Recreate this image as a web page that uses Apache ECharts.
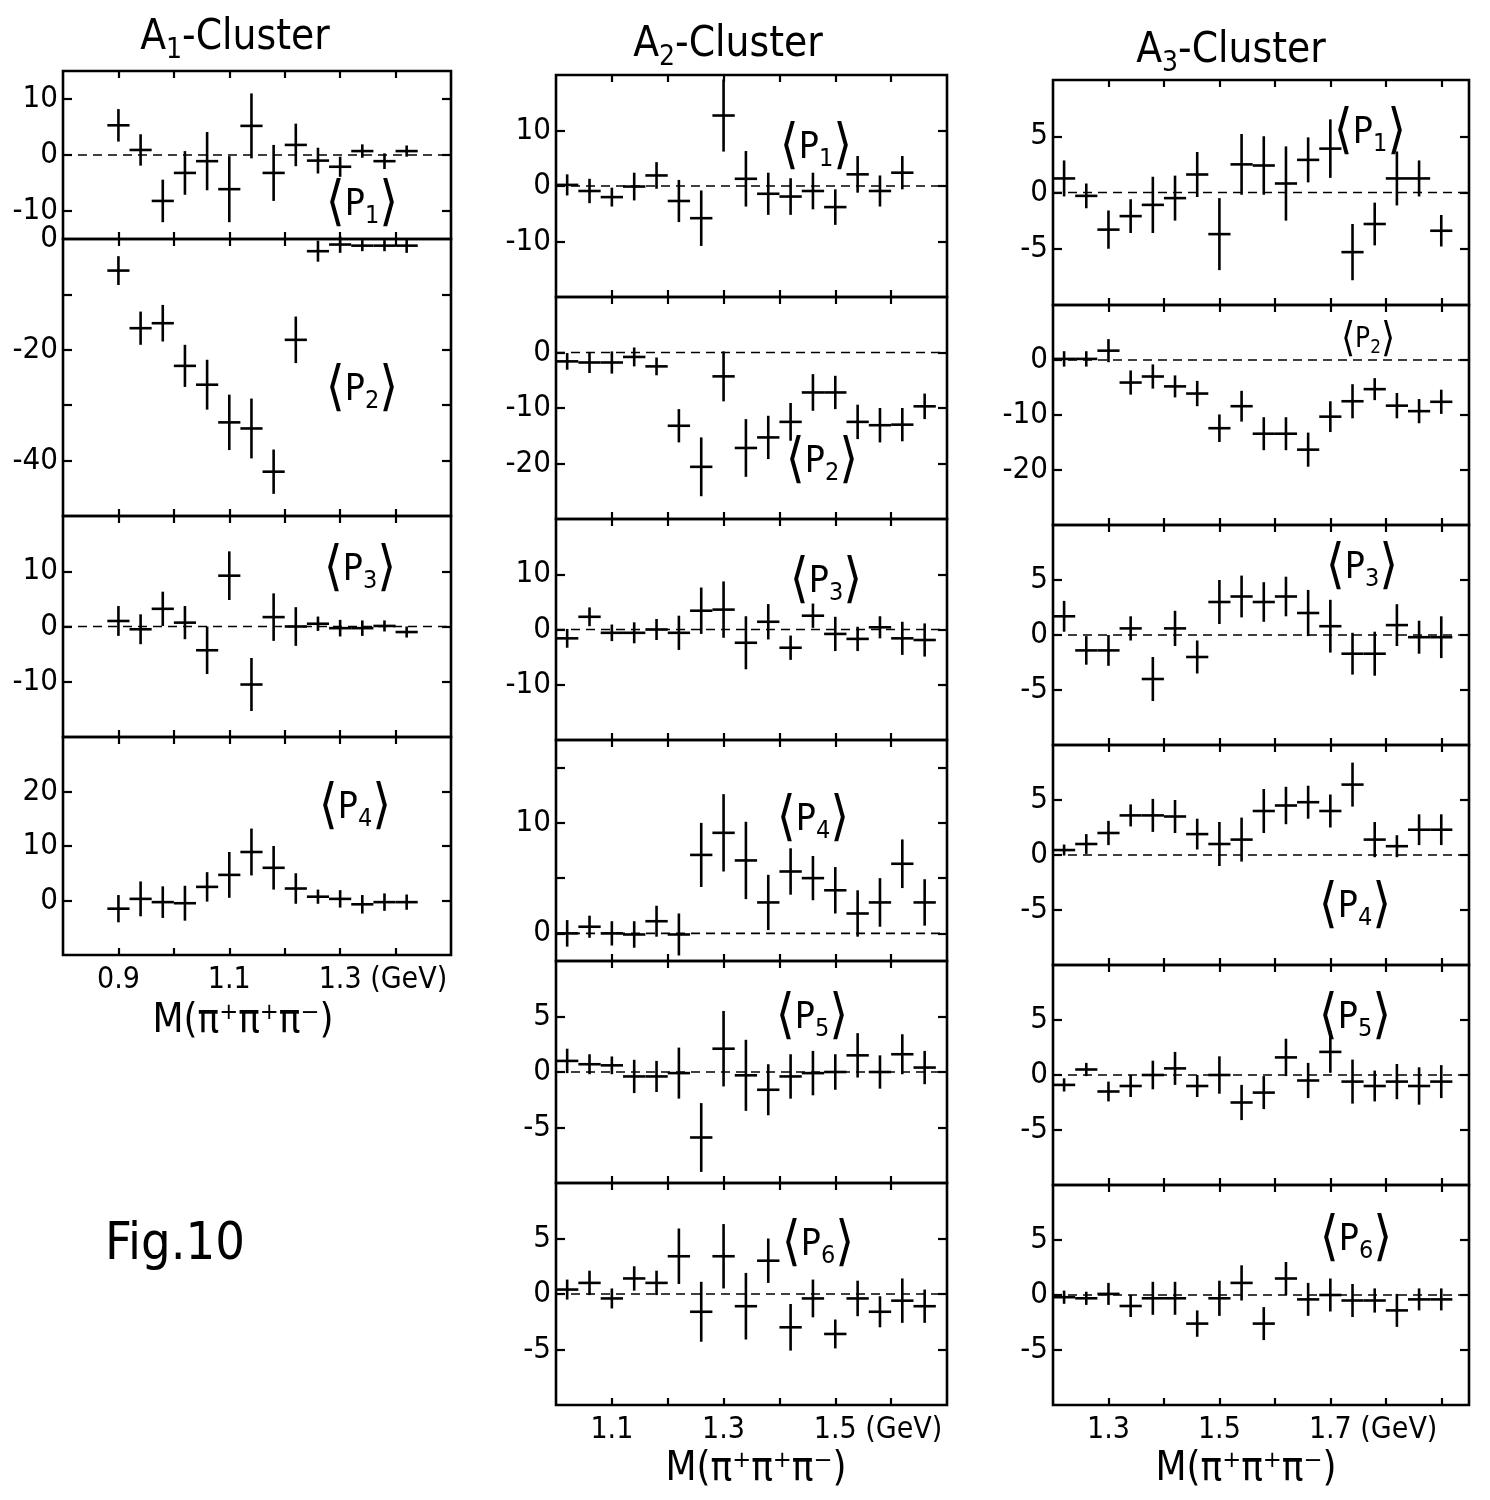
<!DOCTYPE html>
<html>
<head>
<meta charset="utf-8">
<title>Fig.10</title>
<script src="https://cdn.jsdelivr.net/npm/echarts@6/dist/echarts.min.js"></script>
<style>
html,body{margin:0;padding:0;background:#fff;}
#c1{width:1490px;height:1500px;}
</style>
</head>
<body>
<div id="c1"></div>
<script>
// bin centres, GeV
var massA1 = [0.90,0.94,0.98,1.02,1.06,1.10,1.14,1.18,1.22,1.26,1.30,1.34,1.38,1.42];
var massA2 = [1.02,1.06,1.10,1.14,1.18,1.22,1.26,1.30,1.34,1.38,1.42,1.46,1.50,1.54,1.58,1.62,1.66];
var massA3 = [1.22,1.26,1.30,1.34,1.38,1.42,1.46,1.50,1.54,1.58,1.62,1.66,1.70,1.74,1.78,1.82,1.86,1.90];
var binHalf = 0.02;

// A1 cluster
var a1p1  = [5.3,0.9,-8.2,-3.2,-1.1,-6.1,5.2,-3.2,1.8,-1.0,-2.1,0.7,-1.1,0.7];
var a1p1e = [2.9,2.8,3.8,3.9,5.2,5.9,5.8,5.0,3.8,2.3,1.8,1.2,1.4,1.0];
var a1p2  = [-5.7,-16.1,-15.2,-22.9,-26.3,-33.1,-34.2,-42.0,-18.2,-2.2,-1.0,-1.2,-1.2,-1.2];
var a1p2e = [2.6,3.0,3.3,3.8,4.5,5.0,5.4,4.0,4.2,1.9,1.5,1.0,1.0,1.3];
var a1p3  = [1.0,-0.5,3.2,0.7,-4.3,9.2,-10.5,1.7,0.0,0.5,-0.3,-0.3,0.1,-1.0];
var a1p3e = [2.7,2.7,3.1,3.0,4.3,4.4,4.8,4.3,3.5,1.3,1.5,1.4,1.0,1.0];
var a1p4  = [-1.5,0.3,-0.3,-0.5,2.5,4.7,8.9,6.0,2.2,0.7,0.3,-0.7,-0.3,-0.3];
var a1p4e = [2.5,3.2,2.9,3.2,2.7,4.2,4.3,4.0,2.8,1.3,1.6,1.7,1.6,1.4];

// A2 cluster
var a2p1  = [0.2,-0.9,-2.0,-0.1,1.9,-2.7,-5.8,12.7,1.3,-1.4,-1.9,-0.9,-3.8,2.1,-0.9,2.4];
var a2p1e = [1.9,2.2,1.7,2.5,2.4,3.8,5.0,6.5,5.0,3.8,3.3,3.3,3.2,3.3,2.8,3.0];
var a2p2  = [-1.6,-1.8,-1.8,-0.8,-2.5,-13.2,-20.6,-4.3,-17.2,-15.3,-12.5,-7.2,-7.2,-12.5,-13.1,-13.0,-9.7];
var a2p2e = [1.5,1.9,2.0,1.7,1.6,3.0,5.3,4.5,5.2,3.9,3.4,3.3,3.0,3.1,3.1,3.0,2.3];
var a2p3  = [-1.6,2.3,-0.6,-0.6,0.0,-0.6,3.4,3.6,-2.4,1.4,-3.3,2.5,-0.8,-1.7,0.4,-1.6,-1.9];
var a2p3e = [1.7,1.7,1.5,1.9,1.9,3.1,4.2,5.1,4.8,3.2,2.2,2.2,3.1,2.2,2.0,3.0,3.0];
var a2p4  = [0.0,0.6,0.0,-0.1,1.1,-0.1,7.1,9.1,6.6,2.8,5.6,5.0,3.9,1.8,2.8,6.3,2.8];
var a2p4e = [1.2,1.0,1.1,1.2,1.4,1.9,2.9,3.5,3.5,2.5,2.1,2.0,2.1,2.1,2.2,2.2,2.1];
var a2p5  = [1.0,0.7,0.6,-0.4,-0.4,-0.1,-5.9,2.1,-0.3,-1.6,-0.4,-0.1,0.0,1.5,0.0,1.6,0.4];
var a2p5e = [1.1,0.9,0.8,1.5,1.4,2.3,3.1,3.4,3.2,2.3,2.0,2.0,1.6,2.0,1.5,1.8,1.5];
var a2p6  = [0.4,1.0,-0.4,1.4,1.0,3.4,-1.6,3.4,-1.1,3.0,-3.0,-0.4,-3.6,-0.4,-1.6,-0.6,-1.1];
var a2p6e = [0.9,1.1,0.9,1.1,1.1,2.5,2.7,2.9,3.0,2.0,2.1,1.7,1.3,1.6,1.4,2.0,1.5];

// A3 cluster
var a3p1  = [1.25,-0.3,-3.3,-2.1,-1.1,-0.5,1.6,-3.7,2.5,2.4,0.8,2.9,3.9,-5.3,-2.8,1.25,1.25,-3.4];
var a3p1e = [1.6,1.1,1.7,1.5,2.5,2.0,2.0,3.2,2.7,2.6,3.3,2.0,2.6,2.5,1.9,2.4,1.6,1.4];
var a3p2  = [0.2,0.2,1.7,-4.1,-3.0,-4.8,-6.1,-12.4,-8.4,-13.4,-13.4,-16.3,-10.3,-7.5,-5.3,-8.3,-9.3,-7.6];
var a3p2e = [1.4,1.4,2.1,2.2,2.2,2.0,2.3,2.5,2.8,3.0,3.0,3.1,2.8,3.1,2.0,2.3,2.2,2.2];
var a3p3  = [1.7,-1.4,-1.4,0.6,-4.0,0.6,-2.0,3.0,3.5,3.0,3.5,2.0,0.8,-1.7,-1.7,0.9,-0.2,-0.2];
var a3p3e = [1.4,1.3,1.4,1.1,2.0,1.6,1.5,2.0,1.9,1.8,1.8,2.1,2.4,1.9,2.0,1.9,1.5,1.9];
var a3p4  = [0.45,1.0,2.0,3.6,3.6,3.5,1.9,1.0,1.4,4.0,4.5,4.8,4.0,6.4,1.4,0.8,2.3,2.3];
var a3p4e = [0.5,0.9,1.1,1.0,1.5,1.5,1.4,2.0,2.0,2.0,1.7,1.5,1.5,2.0,1.6,1.0,1.4,1.4];
var a3p5  = [-0.9,0.5,-1.5,-1.0,0.0,0.6,-1.0,0.0,-2.5,-1.6,1.6,-0.5,2.1,-0.6,-1.0,-0.6,-1.0,-0.6];
var a3p5e = [0.6,0.6,0.9,1.0,1.3,1.5,1.0,1.7,1.6,1.5,1.7,1.6,1.9,2.0,1.4,1.6,1.7,1.5];
var a3p6  = [-0.2,-0.3,0.1,-1.0,-0.3,-0.3,-2.6,-0.3,1.1,-2.6,1.5,-0.4,0.0,-0.5,-0.5,-1.4,-0.4,-0.4];
var a3p6e = [0.6,0.6,1.0,1.0,1.5,1.5,1.2,1.6,1.6,1.5,1.5,1.5,1.5,1.5,1.1,1.5,1.0,1.0];

var FONT = "'DejaVu Sans Condensed','DejaVu Sans',sans-serif";

var cols = [
    {left:63, width:388, min:0.8, max:1.5, ticks:[0.9,1.0,1.1,1.2,1.3,1.4], labels:[0.9,1.1,1.3], unitAt:1.3, mass:massA1},
    {left:556, width:391, min:1.0, max:1.7, ticks:[1.1,1.2,1.3,1.4,1.5,1.6], labels:[1.1,1.3,1.5], unitAt:1.5, mass:massA2},
    {left:1053, width:416, min:1.2, max:1.95, ticks:[1.3,1.4,1.5,1.6,1.7,1.8,1.9], labels:[1.3,1.5,1.7], unitAt:1.7, mass:massA3}
];

var panels = [
    {col:0, top:71,  height:168, min:-15, max:15, ticks:[-10,0,10], labels:[-10,0,10], val:a1p1, err:a1p1e, zero:true},
    {col:0, top:239, height:277, min:-50, max:0, ticks:[-10,-20,-30,-40], labels:[0,-20,-40], val:a1p2, err:a1p2e, zero:false},
    {col:0, top:516, height:221, min:-20, max:20, ticks:[-10,0,10], labels:[-10,0,10], val:a1p3, err:a1p3e, zero:true},
    {col:0, top:737, height:218, min:-10, max:30, ticks:[0,10,20], labels:[0,10,20], val:a1p4, err:a1p4e, zero:false, last:true},

    {col:1, top:75,  height:222, min:-20, max:20, ticks:[-10,0,10], labels:[-10,0,10], val:a2p1, err:a2p1e, zero:true},
    {col:1, top:297, height:222, min:-30, max:10, ticks:[-20,-10,0], labels:[-20,-10,0], val:a2p2, err:a2p2e, zero:true},
    {col:1, top:519, height:221, min:-20, max:20, ticks:[-10,0,10], labels:[-10,0,10], val:a2p3, err:a2p3e, zero:true},
    {col:1, top:740, height:221, min:-2.5, max:17.5, ticks:[0,5,10,15], labels:[0,10], val:a2p4, err:a2p4e, zero:true},
    {col:1, top:961, height:222, min:-10, max:10, ticks:[-5,0,5], labels:[-5,0,5], val:a2p5, err:a2p5e, zero:true},
    {col:1, top:1183, height:222, min:-10, max:10, ticks:[-5,0,5], labels:[-5,0,5], val:a2p6, err:a2p6e, zero:true, last:true},

    {col:2, top:80,  height:225, min:-10, max:10, ticks:[-5,0,5], labels:[-5,0,5], val:a3p1, err:a3p1e, zero:true},
    {col:2, top:305, height:220, min:-30, max:10, ticks:[-20,-10,0], labels:[-20,-10,0], val:a3p2, err:a3p2e, zero:true},
    {col:2, top:525, height:220, min:-10, max:10, ticks:[-5,0,5], labels:[-5,0,5], val:a3p3, err:a3p3e, zero:true},
    {col:2, top:745, height:220, min:-10, max:10, ticks:[-5,0,5], labels:[-5,0,5], val:a3p4, err:a3p4e, zero:true},
    {col:2, top:965, height:220, min:-10, max:10, ticks:[-5,0,5], labels:[-5,0,5], val:a3p5, err:a3p5e, zero:true},
    {col:2, top:1185, height:220, min:-10, max:10, ticks:[-5,0,5], labels:[-5,0,5], val:a3p6, err:a3p6e, zero:true, last:true}
];

// error cross: vertical bar = error, horizontal bar = bin width
function renderCross(params, api) {
    var x = api.value(0), y = api.value(1), e = api.value(2), h = api.value(3);
    var t = api.coord([x, y + e]), b = api.coord([x, y - e]);
    var l = api.coord([x - h, y]), r = api.coord([x + h, y]);
    var st = {stroke:'#000', lineWidth:2.6};
    return {type:'group', children:[
        {type:'line', shape:{x1:t[0], y1:t[1], x2:b[0], y2:b[1]}, style:st},
        {type:'line', shape:{x1:l[0], y1:l[1], x2:r[0], y2:r[1]}, style:st}
    ]};
}

var grid = [], xAxis = [], yAxis = [], series = [];
panels.forEach(function (p, i) {
    var c = cols[p.col];
    grid.push({left:c.left, top:p.top, width:c.width, height:p.height, show:true,
        borderColor:'#000', borderWidth:2.6, backgroundColor:'transparent'});
    var tick = {show:true, inside:true, length:7, lineStyle:{color:'#000', width:2.2}, customValues:c.ticks};
    xAxis.push({gridIndex:i, type:'value', min:c.min, max:c.max, position:'bottom',
        axisLine:{show:false, onZero:false}, axisTick:tick, splitLine:{show:false},
        axisLabel:{show:!!p.last, customValues:c.labels, margin:10, color:'#000',
            showMinLabel:true, showMaxLabel:true, hideOverlap:false,
            fontFamily:FONT, fontSize:30,
            formatter:function (v) { return v.toFixed(1); }}});
    xAxis.push({gridIndex:i, type:'value', min:c.min, max:c.max, position:'top',
        axisLine:{show:false, onZero:false}, axisTick:tick, axisLabel:{show:false}, splitLine:{show:false}});
    var ytick = {show:true, inside:true, length:9, lineStyle:{color:'#000', width:2.2}, customValues:p.ticks};
    yAxis.push({gridIndex:i, type:'value', min:p.min, max:p.max, position:'left',
        axisLine:{show:false, onZero:false}, axisTick:ytick, splitLine:{show:false},
        axisLabel:{customValues:p.labels, margin:5, color:'#000', fontFamily:FONT, fontSize:31,
            showMinLabel:true, showMaxLabel:true}});
    yAxis.push({gridIndex:i, type:'value', min:p.min, max:p.max, position:'right',
        axisLine:{show:false, onZero:false}, axisTick:ytick, axisLabel:{show:false}, splitLine:{show:false}});

    var pts = [];
    for (var k = 0; k < p.val.length; k++) pts.push([c.mass[k], p.val[k], p.err[k], binHalf]);
    if (p.zero) {
        series.push({type:'line', xAxisIndex:2 * i, yAxisIndex:2 * i, silent:true, symbol:'none',
            data:[[c.min, 0], [c.max, 0]], lineStyle:{color:'#000', width:1.6, type:[9, 6]}});
    }
    series.push({type:'custom', xAxisIndex:2 * i, yAxisIndex:2 * i, renderItem:renderCross,
        data:pts, silent:true});
});

function pLabel(x, y, n, size) {
    var s = size || 1;
    return {type:'text', x:x, y:y, silent:true, style:{
        text:'{b|⟨}{p|P}{s|' + n + '}{b|⟩}', align:'center', verticalAlign:'middle',
        rich:{b:{fontFamily:FONT, fontSize:54 * s, fill:'#000'},
              p:{fontFamily:FONT, fontSize:37 * s, fill:'#000'},
              s:{fontFamily:FONT, fontSize:25 * s, fill:'#000', padding:[22 * s, 0, 0, 0]}}}};
}
function cTitle(x, y, n) {
    return {type:'text', x:x, y:y, silent:true, style:{
        text:'{a|A}{s|' + n + '}{a|-Cluster}', align:'center', verticalAlign:'middle',
        rich:{a:{fontFamily:FONT, fontSize:42, fill:'#000'},
              s:{fontFamily:FONT, fontSize:28, fill:'#000', padding:[26, 0, 0, 0]}}}};
}
function mTitle(x, y) {
    return {type:'text', x:x, y:y, silent:true, style:{
        text:'M(π⁺π⁺π⁻)', align:'center', verticalAlign:'middle',
        fontFamily:FONT, fontSize:40, fill:'#000'}};
}

var graphic = [
    cTitle(235, 38, 1), cTitle(728, 45, 2), cTitle(1231, 51, 3),
    pLabel(362, 205, 1), pLabel(362, 390, 2), pLabel(360, 570, 3), pLabel(355, 808, 4),
    pLabel(816, 148, 1), pLabel(822, 462, 2), pLabel(826, 582, 3), pLabel(813, 820, 4),
    pLabel(812, 1018, 5), pLabel(818, 1245, 6),
    pLabel(1370, 133, 1), pLabel(1368, 340, 2, 0.75), pLabel(1362, 568, 3), pLabel(1355, 907, 4),
    pLabel(1355, 1018, 5), pLabel(1356, 1240, 6),
    mTitle(243, 1022), mTitle(756, 1470), mTitle(1246, 1470),
    {type:'text', x:175, y:1245, silent:true, style:{text:'Fig.10', align:'center', verticalAlign:'middle',
        fontFamily:FONT, fontSize:52, fill:'#000'}}
];

var chartDom = document.getElementById('c1');
var myChart = echarts.init(chartDom);
myChart.setOption({
    backgroundColor:'#fff',
    animation:false,
    grid:grid,
    xAxis:xAxis,
    yAxis:yAxis,
    series:series,
    graphic:graphic
});

// "(GeV)" unit text placed just right of the last labelled tick of each column
panels.forEach(function (p, i) {
    if (!p.last) return;
    var c = cols[p.col];
    var px = myChart.convertToPixel({xAxisIndex:2 * i}, c.unitAt);
    graphic.push({type:'text', x:px + 30, y:p.top + p.height + 25, silent:true, style:{
        text:'(GeV)', align:'left', verticalAlign:'middle', fontFamily:FONT, fontSize:30, fill:'#000'}});
});
myChart.setOption({graphic:graphic});
</script>
</body>
</html>
